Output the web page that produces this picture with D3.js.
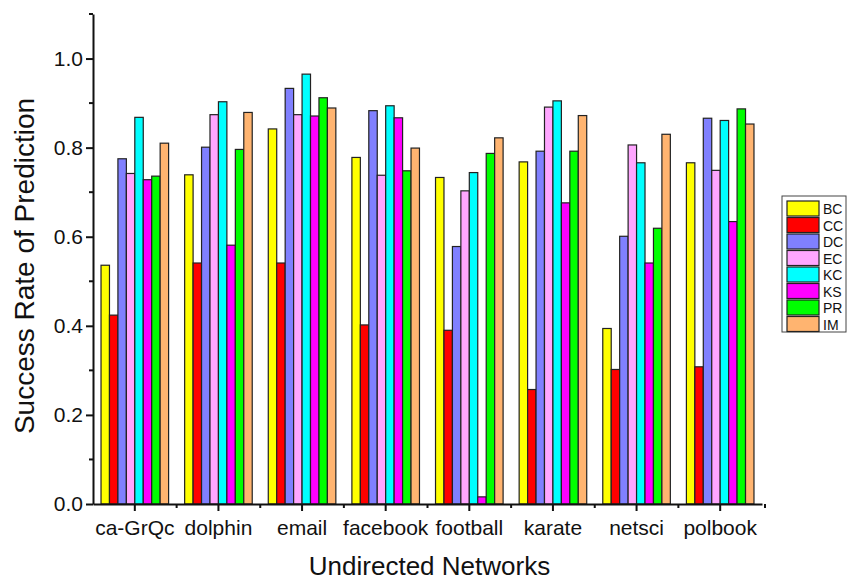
<!DOCTYPE html>
<html>
<head>
<meta charset="utf-8">
<script src="https://cdn.jsdelivr.net/npm/d3@7"></script>
<style>
  body { margin: 0; background: #fff; }
  text { font-family: "Liberation Sans", Arial, sans-serif; }
</style>
</head>
<body>
<svg id="chart" width="855" height="581"></svg>
<script>
// networks on the x axis
const networks = ["ca-GrQc", "dolphin", "email", "facebook", "football", "karate", "netsci", "polbook"];
// methods (legend order)
const methods = ["BC", "CC", "DC", "EC", "KC", "KS", "PR", "IM"];
const methodColors = ["#ffff00", "#ff0000", "#8080ff", "#ffa6ff", "#00ffff", "#ff00ff", "#00ff00", "#ffb470"];

// success rate per method, one value per network
const BC = [0.536, 0.739, 0.842, 0.778, 0.733, 0.768, 0.394, 0.766];
const CC = [0.424, 0.541, 0.541, 0.402, 0.390, 0.257, 0.302, 0.308];
const DC = [0.775, 0.801, 0.933, 0.883, 0.578, 0.792, 0.601, 0.866];
const EC = [0.742, 0.874, 0.874, 0.738, 0.703, 0.891, 0.806, 0.749];
const KC = [0.868, 0.903, 0.965, 0.894, 0.744, 0.905, 0.766, 0.861];
const KS = [0.728, 0.581, 0.871, 0.867, 0.016, 0.676, 0.541, 0.634];
const PR = [0.736, 0.796, 0.912, 0.748, 0.787, 0.792, 0.619, 0.887];
const IM = [0.810, 0.879, 0.889, 0.799, 0.822, 0.872, 0.830, 0.853];

const yTicks = [0, 0.2, 0.4, 0.6, 0.8, 1.0];
const yMinor = [0.1, 0.3, 0.5, 0.7, 0.9, 1.1];

const series = [BC, CC, DC, EC, KC, KS, PR, IM];

let svg = d3.select("#chart");
let plotLeft = 93, plotRight = 762, plotTop = 14, plotBottom = 504;

let x = d3.scaleBand().domain(networks).range([plotLeft, plotRight]).padding(0);
// bars of one network fill ~80% of its band, centred
let xInner = d3.scaleBand().domain(methods).range([0, x.bandwidth()]).paddingInner(0).paddingOuter(0.95);
let y = d3.scaleLinear().domain([0, 1.1]).range([plotBottom, plotTop]);

// bars
let groups = svg.append("g").selectAll("g")
    .data(networks)
    .join("g")
    .attr("transform", d => "translate(" + x(d) + ",0)");

groups.selectAll("rect")
    .data((d, i) => methods.map((m, j) => ({ m: m, v: series[j][i], c: methodColors[j] })))
    .join("rect")
    .attr("x", d => xInner(d.m))
    .attr("width", xInner.bandwidth())
    .attr("y", d => y(d.v))
    .attr("height", d => plotBottom - y(d.v))
    .attr("fill", d => d.c)
    .attr("stroke", "#222")
    .attr("stroke-width", 1.2);

// y axis
let yAxis = svg.append("g").attr("transform", "translate(" + plotLeft + ",0)")
    .call(d3.axisLeft(y).tickValues(yTicks).tickFormat(d3.format(".1f")).tickSize(7).tickSizeOuter(0));
yAxis.select(".domain").attr("stroke", "#111").attr("stroke-width", 2);
yAxis.selectAll(".tick line").attr("stroke", "#111").attr("stroke-width", 2);
yAxis.selectAll("text").style("font-size", "21px").attr("x", -10).attr("fill", "#111");
svg.append("g").selectAll("line")
    .data(yMinor)
    .join("line")
    .attr("x1", plotLeft - 4).attr("x2", plotLeft)
    .attr("y1", d => y(d)).attr("y2", d => y(d))
    .attr("stroke", "#111").attr("stroke-width", 2);

// x axis
let xAxis = svg.append("g").attr("transform", "translate(0," + plotBottom + ")")
    .call(d3.axisBottom(x).tickSize(7).tickSizeOuter(0));
xAxis.select(".domain").attr("stroke", "#111").attr("stroke-width", 2);
xAxis.selectAll(".tick line").attr("stroke", "#111").attr("stroke-width", 2);
xAxis.selectAll("text").style("font-size", "21px").attr("y", 16).attr("fill", "#111");
svg.append("g").selectAll("line")
    .data(networks.slice(1).map(n => x(n)).concat([plotRight + 3]))
    .join("line")
    .attr("x1", d => d).attr("x2", d => d)
    .attr("y1", plotBottom).attr("y2", plotBottom + 4)
    .attr("stroke", "#111").attr("stroke-width", 2);

// axis titles
svg.append("text")
    .attr("transform", "translate(34,266) rotate(-90)")
    .attr("text-anchor", "middle")
    .style("font-size", "28px")
    .attr("fill", "#111")
    .text("Success Rate of Prediction");

svg.append("text")
    .attr("x", (plotLeft + plotRight) / 2 + 2)
    .attr("y", 575)
    .attr("text-anchor", "middle")
    .style("font-size", "26px")
    .attr("fill", "#111")
    .text("Undirected Networks");

// legend
let legend = svg.append("g").attr("transform", "translate(782,196)");
legend.append("rect")
    .attr("width", 64).attr("height", 136)
    .attr("fill", "#fff").attr("stroke", "#444").attr("stroke-width", 1);
let items = legend.selectAll("g.item")
    .data(methods)
    .join("g")
    .attr("class", "item")
    .attr("transform", (d, i) => "translate(5," + (5 + i * 16.5) + ")");
items.append("rect")
    .attr("width", 32).attr("height", 15)
    .attr("fill", (d, i) => methodColors[i])
    .attr("stroke", "#222").attr("stroke-width", 1.2);
items.append("text")
    .attr("x", 36).attr("y", 13)
    .style("font-size", "14px")
    .attr("fill", "#111")
    .text(d => d);
</script>
</body>
</html>
